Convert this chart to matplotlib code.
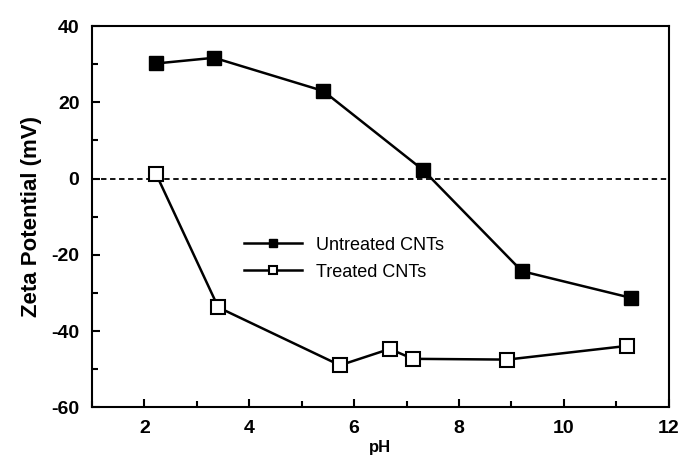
import numpy as np
import matplotlib.pyplot as plt
from matplotlib.ticker import MultipleLocator

plt.rcParams['font.family'] = ['Liberation Sans', 'DejaVu Sans']
plt.rcParams['axes.unicode_minus'] = False

# dados
ph_untreated = [2.22, 3.33, 5.41, 7.32, 9.20, 11.28]
zeta_untreated = [30.2, 31.7, 23.0, 2.2, -24.3, -31.3]

ph_treated = [2.22, 3.41, 5.73, 6.68, 7.12, 8.92, 11.21]
zeta_treated = [1.3, -33.8, -49.0, -44.7, -47.3, -47.5, -43.9]

fig = plt.figure(figsize=(6.81, 4.67), dpi=100)
ax = fig.add_axes([0.135, 0.128, 0.847, 0.816])

ax.axhline(0, color='k', ls=(0, (3, 2)), lw=1.3, zorder=1)

ax.plot(ph_untreated, zeta_untreated, '-s', color='k', lw=1.8,
        ms=10.5, mfc='k', mec='k', label='Untreated CNTs')
ax.plot(ph_treated, zeta_treated, '-s', color='k', lw=1.8,
        ms=9.5, mfc='white', mec='k', mew=1.5, label='Treated CNTs')

ax.set_xlim(1, 12)
ax.set_ylim(-60, 40)
ax.xaxis.set_major_locator(MultipleLocator(2))
ax.xaxis.set_minor_locator(MultipleLocator(1))
ax.yaxis.set_major_locator(MultipleLocator(20))
ax.yaxis.set_minor_locator(MultipleLocator(10))
ax.tick_params(which='both', direction='in', width=1.5)
ax.tick_params(which='major', length=6, labelsize=14, pad=9)
ax.tick_params(which='minor', length=4)
for lab in ax.get_xticklabels() + ax.get_yticklabels():
    lab.set_fontweight('bold')
for s in ax.spines.values():
    s.set_linewidth(1.5)

ax.set_xlabel('pH', fontsize=12, fontweight='bold', labelpad=2)
ax.set_ylabel('Zeta Potential (mV)', fontsize=16, fontweight='bold', labelpad=7)

ax.legend(loc='upper left', bbox_to_anchor=(0.235, 0.49), frameon=False,
          markerscale=0.55, handlelength=3.2, fontsize=13, labelspacing=0.55)

fig.savefig('out.png', dpi=100)
